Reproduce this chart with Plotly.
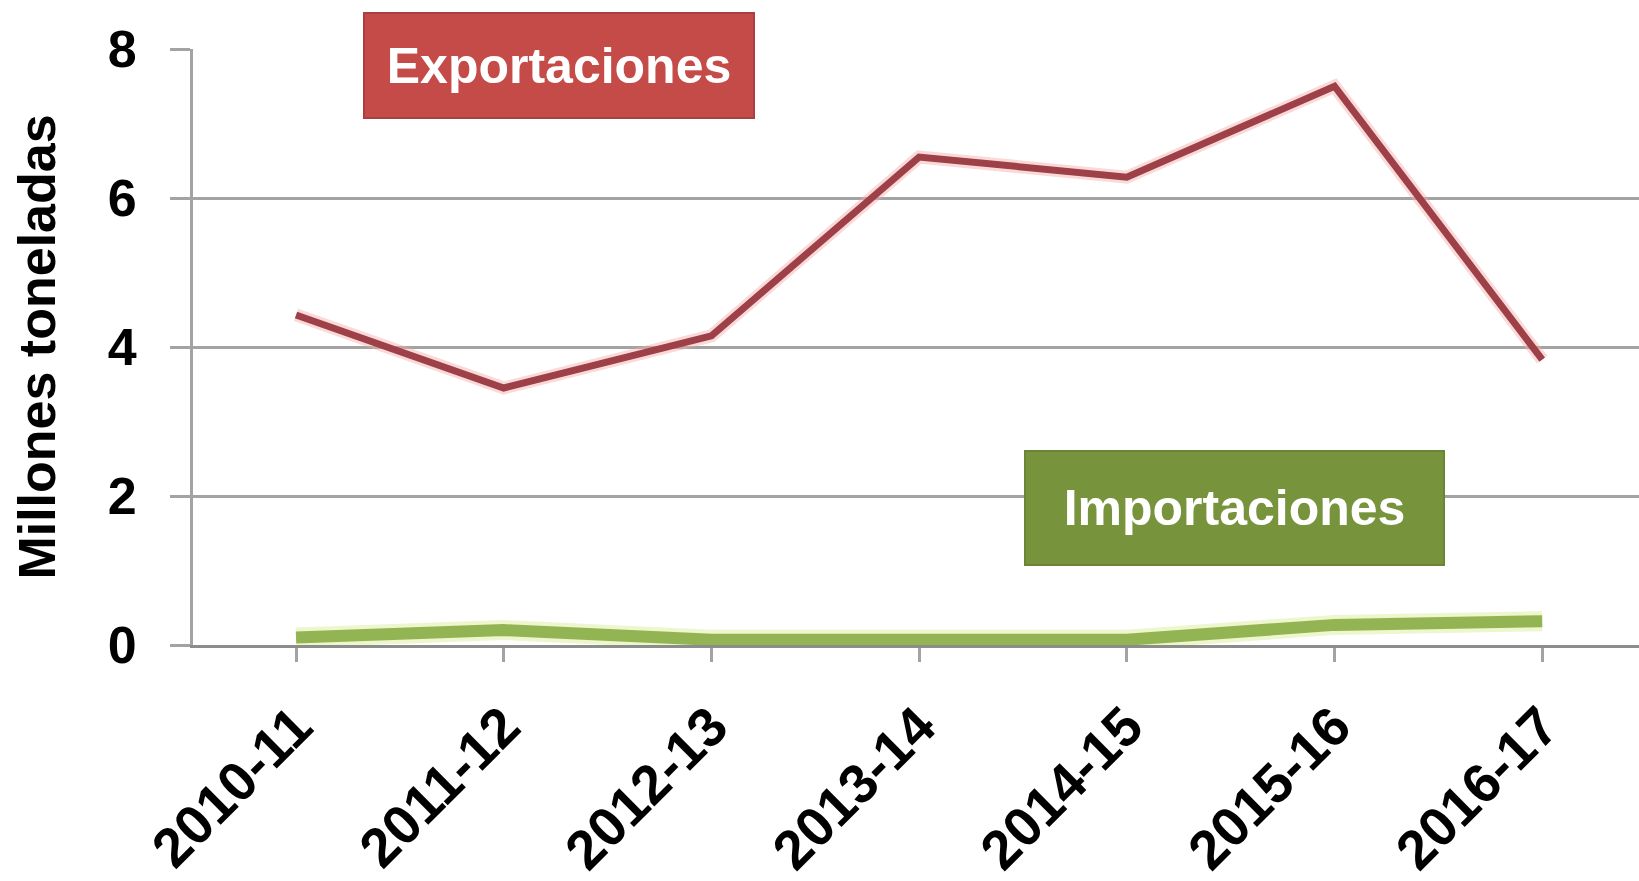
import plotly.graph_objects as go

campanas = ['2010-11', '2011-12', '2012-13', '2013-14', '2014-15', '2015-16', '2016-17']
exportaciones = [4.43, 3.45, 4.15, 6.55, 6.28, 7.5, 3.83]
importaciones = [0.1, 0.2, 0.07, 0.07, 0.07, 0.27, 0.32]
y_ticks = [0, 2, 4, 6, 8]

FONT = 'Liberation Sans, Arial, sans-serif'
GRIS = '#a3a3a3'

fig = go.Figure()

# halos claros debajo de las lineas, como en el grafico original
fig.add_trace(go.Scatter(x=campanas, y=exportaciones, mode='lines',
                         line=dict(color='rgba(245,170,170,0.45)', width=13),
                         hoverinfo='skip', showlegend=False))
fig.add_trace(go.Scatter(x=campanas, y=importaciones, mode='lines',
                         line=dict(color='rgba(225,240,170,0.6)', width=20),
                         hoverinfo='skip', showlegend=False))

fig.add_trace(go.Scatter(x=campanas, y=importaciones, mode='lines',
                         name='Importaciones',
                         line=dict(color='#93b453', width=12)))
fig.add_trace(go.Scatter(x=campanas, y=exportaciones, mode='lines',
                         name='Exportaciones',
                         line=dict(color='#9e4047', width=7)))

fig.update_xaxes(
    type='category', range=[-0.496, 6.466],
    showline=True, linecolor='#8c8c8c', linewidth=3,
    showgrid=False, zeroline=False,
    ticks='outside', ticklen=14, tickwidth=3, tickcolor=GRIS,
    tickangle=-45, ticklabelstandoff=10,
    tickfont=dict(family=FONT, size=55, color='black', weight='bold'),
)
fig.update_yaxes(
    range=[0, 8], tickvals=y_ticks,
    showline=True, linecolor=GRIS, linewidth=3,
    showgrid=True, gridcolor=GRIS, gridwidth=3,
    zeroline=False,
    ticks='outside', ticklen=20, tickwidth=3, tickcolor=GRIS,
    ticklabelstandoff=23,
    tickfont=dict(family=FONT, size=52, color='black', weight='bold'),
    title=dict(text='Millones toneladas', standoff=36,
               font=dict(family=FONT, size=52, color='black', weight='bold')),
)

fig.add_annotation(xref='paper', yref='paper', x=0.2531, y=0.9716,
                   xanchor='center', yanchor='middle',
                   text='Exportaciones', showarrow=False,
                   width=388, height=103, borderpad=0,
                   bgcolor='#c44b48', bordercolor='#a9403f', borderwidth=2,
                   font=dict(family=FONT, size=50, color='white', weight='bold'))
fig.add_annotation(xref='paper', yref='paper', x=0.7203, y=0.2291,
                   xanchor='center', yanchor='middle',
                   text='Importaciones', showarrow=False,
                   width=417, height=112, borderpad=0,
                   bgcolor='#77933c', bordercolor='#6a8535', borderwidth=2,
                   font=dict(family=FONT, size=50, color='white', weight='bold'))

fig.update_layout(
    width=1639, height=881,
    margin=dict(l=193, r=0, t=49, b=234),
    paper_bgcolor='white', plot_bgcolor='white',
    showlegend=False,
)

fig.write_html('out.html', config={'displayModeBar': False},
               post_script="document.body.style.margin='0';document.body.style.overflow='hidden';")
